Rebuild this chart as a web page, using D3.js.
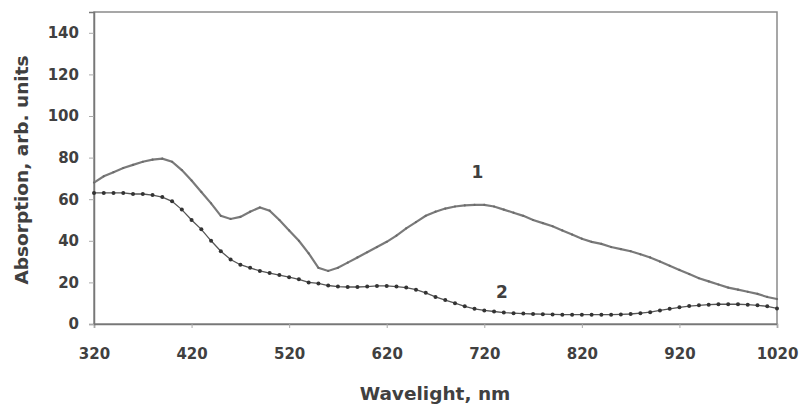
<!DOCTYPE html>
<html><head><meta charset="utf-8">
<script src="https://cdn.jsdelivr.net/npm/d3@7"></script>
<style>body{margin:0;background:#fff}svg{display:block}text{font-family:"DejaVu Sans",Verdana,sans-serif;font-weight:bold;fill:#404040}</style>
</head><body><div id="chart"></div>
<script>
const wavelengths = d3.range(320, 1021, 10);
const series1 = [68,71,73,75,76.5,78,79,79.5,78,74,69,63.5,58,52,50.5,51.5,54,56,54.5,50,45,40,34,27,25.5,27,29.5,32,34.5,37,39.5,42.5,46,49,52,54,55.5,56.5,57,57.3,57.3,56.5,55,53.5,52,50,48.5,47,45,43,41,39.5,38.5,37,36,35,33.5,32,30,28,26,24,22,20.5,19,17.5,16.5,15.5,14.5,13,12];
const series2 = [63,63,63,63,62.5,62.5,62,61,59,55,50,45.5,40,35,31,28.5,27,25.5,24.5,23.5,22.5,21.5,20,19.5,18.5,18,17.8,17.8,18,18.3,18.3,18,17.5,16.5,15,13,11.5,10,8.5,7.3,6.5,6,5.5,5.2,5,4.8,4.7,4.6,4.5,4.5,4.5,4.5,4.5,4.5,4.6,4.8,5.2,5.7,6.5,7.3,8,8.6,9,9.3,9.5,9.5,9.5,9.3,9,8.5,7.5,6];
const xTicks = [320,420,520,620,720,820,920,1020];
const yTicks = [0,20,40,60,80,100,120,140];
const seriesLabels = [{name:"1", x:713, y:72.5}, {name:"2", x:738, y:15}];

const W = 799, H = 409;
const m = {left:94, right:22, top:12, bottom:85};
const svg = d3.select("#chart").append("svg").attr("width", W).attr("height", H);
const x = d3.scaleLinear().domain([320,1020]).range([m.left, W-m.right]);
const y = d3.scaleLinear().domain([0,150]).range([H-m.bottom, m.top]);

// frame
svg.append("rect").attr("x", x(320)).attr("y", y(150)).attr("width", x(1020)-x(320)).attr("height", y(0)-y(150))
  .attr("fill","none").attr("stroke","#8a8a8a").attr("stroke-width",1.5);

const xAxis = svg.append("g").attr("transform",`translate(0,${y(0)})`)
  .call(d3.axisBottom(x).tickValues(xTicks).tickSize(4).tickPadding(20).tickFormat(d3.format("d")));
const yAxis = svg.append("g").attr("transform",`translate(${x(320)},0)`)
  .call(d3.axisLeft(y).tickValues(yTicks).tickSize(5).tickPadding(10).tickFormat(d3.format("d")));
[xAxis,yAxis].forEach(g=>{
  g.select(".domain").attr("stroke","#777").attr("stroke-width",1.5);
  g.selectAll(".tick line").attr("stroke","#aaa");
  g.selectAll("text").style("font-size","15px").style("font-family","'DejaVu Sans',sans-serif").style("font-weight","bold").attr("fill","#404040");
});

const data1 = wavelengths.map((w,i)=>({w, v:series1[i]}));
const data2 = wavelengths.map((w,i)=>({w, v:series2[i]}));
const line = d3.line().x(d=>x(d.w)).y(d=>y(d.v));

svg.append("path").datum(data1).attr("d", line).attr("fill","none").attr("stroke","#7a7a7a").attr("stroke-width",2.2);
svg.append("g").selectAll("circle").data(data1).join("circle")
  .attr("cx",d=>x(d.w)).attr("cy",d=>y(d.v)).attr("r",1.1).attr("fill","#6a6a6a");

svg.append("path").datum(data2).attr("d", line).attr("fill","none").attr("stroke","#555").attr("stroke-width",1.3);
svg.append("g").selectAll("circle").data(data2).join("circle")
  .attr("cx",d=>x(d.w)).attr("cy",d=>y(d.v)).attr("r",2).attr("fill","#333");

svg.append("g").selectAll("text").data(seriesLabels).join("text")
  .attr("x",d=>x(d.x)).attr("y",d=>y(d.y)).attr("text-anchor","middle").attr("dominant-baseline","middle")
  .style("font-size","17px").text(d=>d.name);

svg.append("text").attr("x", 435).attr("y", 400).attr("text-anchor","middle").style("font-size","18.5px").text("Wavelight, nm");
svg.append("text").attr("transform","translate(23,170) rotate(-90)").attr("text-anchor","middle").attr("dominant-baseline","middle")
  .style("font-size","18.5px").text("Absorption, arb. units");
</script></body></html>
